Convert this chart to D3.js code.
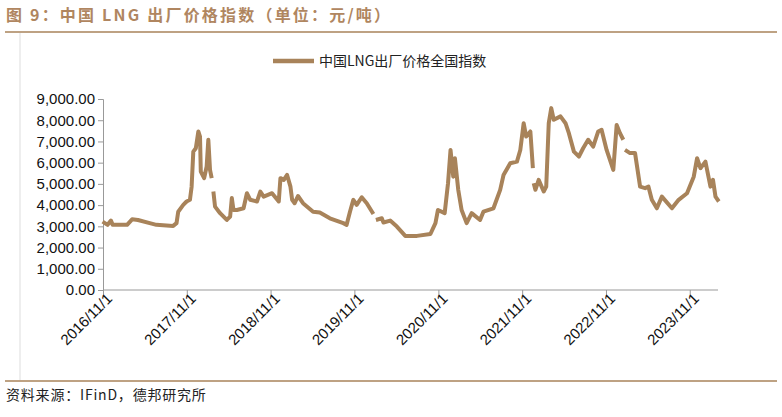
<!DOCTYPE html>
<html><head><meta charset="utf-8">
<script src="https://cdn.jsdelivr.net/npm/d3@7"></script>
<style>body{margin:0;background:#fff;}svg{display:block;font-family:"Noto Sans CJK SC","Liberation Sans",sans-serif;}</style>
</head><body><svg id="c" width="782" height="417"></svg>
<script>
// decimal year, value (null value = gap)
const times = [2016.83,2016.89,2016.93,2016.95,2017.12,2017.18,2017.25,2017.39,2017.47,2017.67,2017.71,2017.73,2017.79,2017.83,2017.87,2017.89,2017.91,2017.94,2017.97,2017.99,2018.00,2018.04,2018.07,2018.09,2018.11,2018.13,2018.14,
2018.15,2018.17,2018.23,2018.31,2018.35,2018.37,2018.39,2018.43,2018.51,2018.55,2018.59,2018.67,2018.71,2018.75,2018.85,2018.93,2018.95,2018.99,2019.03,2019.07,2019.09,2019.12,2019.16,2019.22,2019.34,2019.42,2019.54,2019.70,2019.74,2019.78,2019.82,2019.86,2019.92,2019.98,2020.06,2020.07,
2020.09,2020.16,2020.18,2020.26,2020.34,2020.44,2020.58,2020.74,2020.80,2020.83,2020.91,2020.95,2020.98,2021.01,2021.03,2021.07,2021.11,2021.17,2021.23,2021.33,2021.37,2021.49,2021.57,2021.61,2021.69,2021.77,2021.81,2021.85,2021.88,2021.93,2021.96,2021.965,
2021.97,2021.99,2022.03,2022.09,2022.12,2022.15,2022.18,2022.21,2022.29,2022.35,2022.39,2022.45,2022.51,2022.56,2022.62,2022.68,2022.74,2022.78,2022.84,2022.92,2022.96,2023.00,2023.04,2023.05,
2023.06,2023.12,2023.18,2023.24,2023.30,2023.34,2023.38,2023.44,2023.50,2023.62,2023.70,2023.80,2023.88,2023.92,2023.96,2024.02,2024.08,2024.11,2024.14,2024.18];
const prices = [3220,3070,3270,3070,3070,3330,3300,3150,3070,3020,3150,3690,4010,4170,4250,4870,6520,6680,7470,7230,5580,5270,5820,7080,5660,5270,null,
4640,3930,3620,3300,3460,4330,3770,3770,3850,4560,4250,4170,4640,4400,4560,4170,5270,5190,5420,4870,4250,4090,4430,4090,3690,3650,3380,3150,3070,3690,4250,4010,4370,4090,3580,null,
3300,3380,3180,3270,2990,2550,2550,2640,3150,3770,3620,5030,6600,5340,6210,4720,3770,3150,3620,3300,3690,3850,4720,5420,5970,6050,6600,7860,7230,7470,5740,null,
5030,4720,5190,4640,4870,7860,8570,8020,8180,7860,7390,6520,6290,6680,7080,6760,7470,7550,6600,5660,7780,7390,7080,null,
6600,6450,6450,4870,4800,4870,4250,3850,4400,3850,4250,4560,5340,6210,5740,6050,4870,5190,4400,4170];
const yTicks = [0,1000,2000,3000,4000,5000,6000,7000,8000,9000];
const xTickLabels = ["2016/11/1","2017/11/1","2018/11/1","2019/11/1","2020/11/1","2021/11/1","2022/11/1","2023/11/1"];
const seriesName = "中国LNG出厂价格全国指数";

const toDate = t => { const y = Math.floor(t); return new Date(new Date(y,0,1).getTime() + (t-y)*365.25*864e5); };
const data = times.map((t,i)=>({d:toDate(t), v:prices[i]}));
const svg = d3.select("#c");
const C = "#A8835A";
const L=103, R=718, T=99, B=290;
const x = d3.scaleTime().domain([new Date(2016,10,1), toDate(2024.17)]).range([L,R]);
const y = d3.scaleLinear().domain([0,9000]).range([B,T]);

svg.append("text").attr("x",6).attr("y",21).attr("fill","#B08660").attr("font-size",16).attr("font-weight","bold").attr("letter-spacing",2.2).text("图 9：中国 LNG 出厂价格指数（单位：元/吨）");
svg.append("line").attr("x1",5).attr("x2",777).attr("y1",32).attr("y2",32).attr("stroke","#A8835A").attr("stroke-width",1.5);
svg.append("line").attr("x1",5).attr("x2",777).attr("y1",381).attr("y2",381).attr("stroke","#A8835A").attr("stroke-width",1.5);
svg.append("line").attr("x1",20).attr("x2",20).attr("y1",33).attr("y2",380).attr("stroke","#ddd");
svg.append("text").attr("x",6).attr("y",400).attr("font-size",14).attr("fill","#222").attr("letter-spacing",0.8).text("资料来源：IFinD，德邦研究所");

// legend
svg.append("line").attr("x1",273).attr("x2",314).attr("y1",61).attr("y2",61).attr("stroke",C).attr("stroke-width",4.5);
svg.append("text").attr("x",319).attr("y",66).attr("font-size",14).attr("fill","#222").text(seriesName);

const ya = svg.append("g").attr("transform",`translate(${L},0)`).call(d3.axisLeft(y).tickValues(yTicks).tickSize(5).tickFormat(d3.format(",.2f")));
ya.selectAll("text").attr("font-size",15).attr("fill","#111").attr("font-family","Liberation Sans, Arial");
ya.selectAll("line,path").attr("stroke","#999");
const xt = xTickLabels.map(s=>{const p=s.split("/");return new Date(+p[0],+p[1]-1,+p[2]);});
const xa = svg.append("g").attr("transform",`translate(0,${B})`).call(d3.axisBottom(x).tickValues(xt).tickSize(5).tickFormat((d,i)=>xTickLabels[i]));
xa.select("path").attr("d",`M${L},0H${R}`);
xa.selectAll("line,path").attr("stroke","#999");
xa.selectAll("text").attr("font-size",15).attr("fill","#111").attr("font-family","Liberation Sans, Arial")
  .attr("text-anchor","end").attr("transform","translate(6,6) rotate(-45)").attr("dy","0.35em").attr("x",0).attr("y",0);

svg.append("path").datum(data).attr("fill","none").attr("stroke",C).attr("stroke-width",4).attr("stroke-linejoin","round")
  .attr("d", d3.line().defined(d=>d.v!==null).x(d=>x(d.d)).y(d=>y(d.v)));
</script></body></html>
